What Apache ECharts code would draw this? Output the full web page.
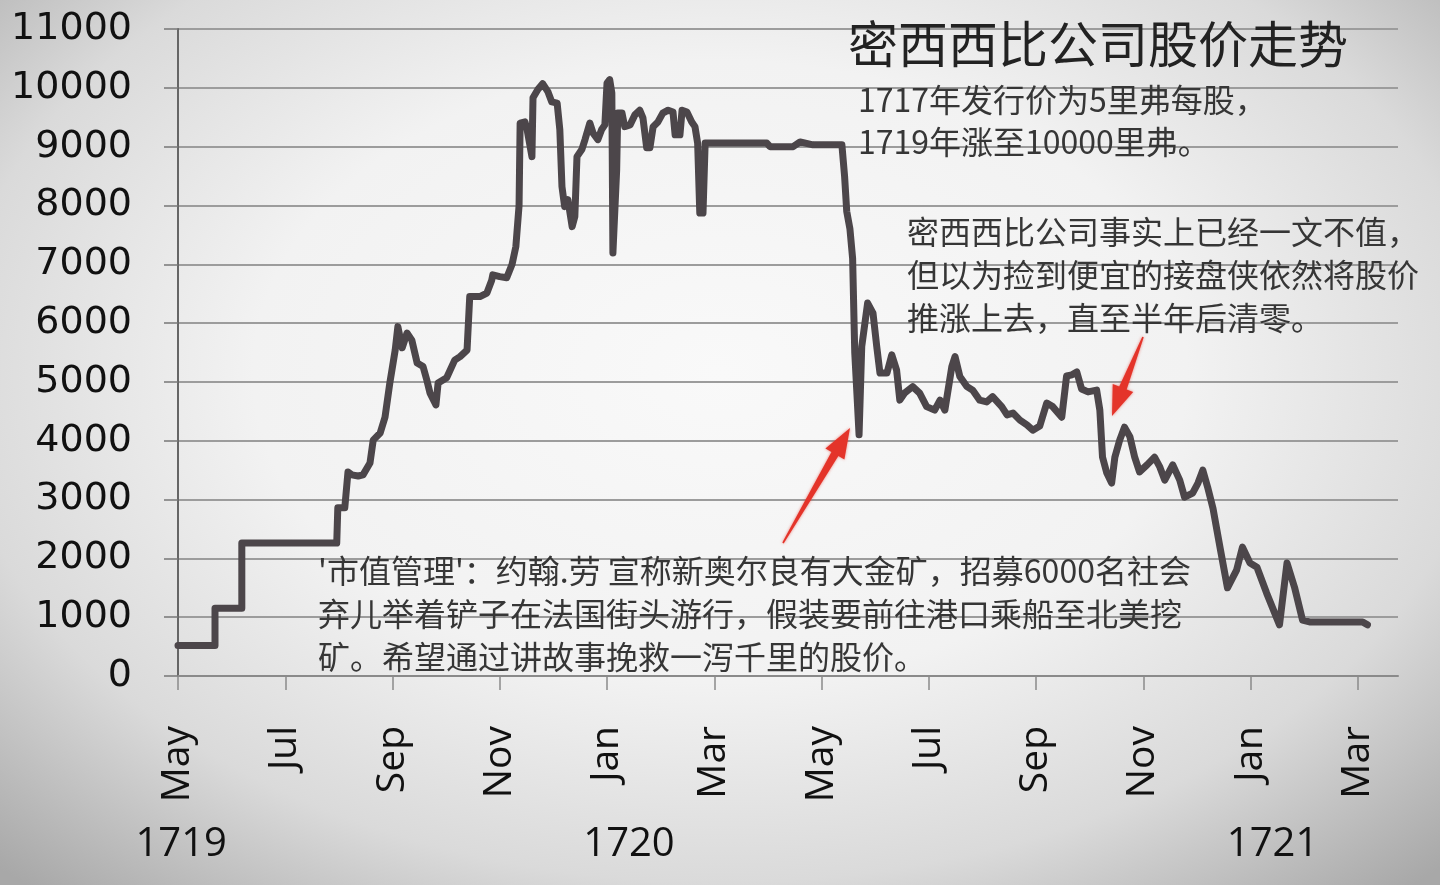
<!DOCTYPE html>
<html>
<head>
<meta charset="utf-8">
<title>密西西比公司股价走势</title>
<script src="https://cdn.jsdelivr.net/npm/echarts@6/dist/echarts.min.js"></script>
<style>
  html, body { margin: 0; padding: 0; }
  body {
    width: 1440px; height: 885px; overflow: hidden;
    background: radial-gradient(ellipse 72% 78% at 50% 42%, #f9f9f9 0%, #f2f2f2 45%, #dadada 74%, #a8a8a8 100%);
  }
  #chart { width: 1440px; height: 885px; }
</style>
</head>
<body>
<div id="chart"></div>
<script>
// x = months since May 1719, y = share price (livres)
const months = [
  0, 0.69, 0.69, 1.19, 1.19, 2.96, 2.98, 3.11, 3.17, 3.24, 3.36, 3.45, 3.58, 3.64, 3.77, 3.86, 3.95, 4.05, 4.10,
  4.18, 4.27, 4.36, 4.46, 4.57, 4.64, 4.70, 4.81, 4.85, 5.01, 5.16, 5.26, 5.39, 5.44, 5.63, 5.76, 5.85, 5.87,
  6.00, 6.13, 6.23, 6.30, 6.36, 6.38, 6.47, 6.51, 6.60, 6.62, 6.71, 6.80, 6.90, 6.97, 7.07, 7.12, 7.16, 7.21,
  7.27, 7.35, 7.40, 7.44, 7.53, 7.59, 7.68, 7.74, 7.83, 7.90, 7.96, 8.00, 8.05, 8.09, 8.11, 8.18, 8.20, 8.28,
  8.33, 8.43, 8.52, 8.61, 8.67, 8.74, 8.80, 8.86, 8.95, 9.04, 9.14, 9.23, 9.27, 9.36, 9.40, 9.49, 9.58, 9.64,
  9.69, 9.73, 9.79, 9.83, 10.98, 11.04, 11.47, 11.60, 11.84, 12.38, 12.43, 12.47, 12.53, 12.58, 12.62, 12.66,
  12.70, 12.75, 12.86, 12.96, 13.03, 13.09, 13.22, 13.31, 13.40, 13.46, 13.55, 13.70, 13.83, 13.96, 14.11,
  14.21, 14.30, 14.43, 14.49, 14.58, 14.71, 14.82, 14.95, 15.08, 15.19, 15.36, 15.46, 15.57, 15.70, 15.83,
  15.94, 16.07, 16.20, 16.31, 16.48, 16.57, 16.67, 16.76, 16.85, 16.97, 17.13, 17.19, 17.24, 17.32, 17.41,
  17.47, 17.56, 17.65, 17.75, 17.84, 17.93, 18.07, 18.21, 18.31, 18.40, 18.55, 18.68, 18.77, 18.92, 19.02,
  19.11, 19.20, 19.30, 19.43, 19.57, 19.74, 19.85, 19.99, 20.12, 20.30, 20.54, 20.68, 20.82, 20.97, 21.10,
  22.09, 22.18
];
const prices = [
  520, 520, 1150, 1150, 2260, 2260, 2860, 2860, 3470, 3420, 3400, 3420, 3620, 4010, 4130, 4400, 4980, 5540, 5940,
  5580, 5830, 5710, 5320, 5260, 5030, 4810, 4610, 4980, 5070, 5370, 5430, 5540, 6450, 6450, 6510, 6730, 6820,
  6790, 6770, 7000, 7300, 8000, 9400, 9420, 9290, 8830, 9830, 9970, 10070, 9930, 9760, 9740, 9290, 8320, 7980,
  8100, 7640, 7810, 8830, 8950, 9120, 9400, 9230, 9120, 9290, 9370, 10080, 10140, 9910, 7190, 8600, 9570, 9570,
  9340, 9370, 9540, 9620, 9490, 8980, 8980, 9340, 9420, 9570, 9620, 9590, 9200, 9200, 9620, 9590, 9420, 9340,
  9060, 7870, 7870, 9060, 9060, 9000, 9000, 9080, 9030, 9030, 8500, 7900, 7600, 7100, 5490, 4800,
  4100, 5600, 6340, 6170, 5600, 5150, 5150, 5460, 5200, 4690, 4810, 4920, 4810, 4580, 4520,
  4690, 4520, 5260, 5430, 5090, 4920, 4860, 4690, 4660, 4750, 4580, 4440, 4470, 4350, 4270,
  4180, 4250, 4640, 4580, 4400, 5100, 5120, 5170, 4880, 4830, 4860, 4520, 3720, 3450, 3280,
  3720, 4010, 4230, 4070, 3720, 3470, 3590, 3720, 3550, 3330, 3590, 3330, 3040, 3110, 3280,
  3500, 3210, 2850, 2190, 1500, 1800, 2190, 1920, 1850, 1410, 870, 1920, 1510, 950, 920,
  920, 870
];
const monthTicks = [0, 2, 4, 6, 8, 10, 12, 14, 16, 18, 20, 22];
const monthLabels = ['May', 'Jul', 'Sep', 'Nov', 'Jan', 'Mar', 'May', 'Jul', 'Sep', 'Nov', 'Jan', 'Mar'];
const yearLabels = ['1719', '1720', '1721'];
const yearPos = [0.06, 8.41, 20.41];

const title = '密西西比公司股价走势';
const note1 = ['1717年发行价为5里弗每股，', '1719年涨至10000里弗。'];
const note2 = ['密西西比公司事实上已经一文不值，', '但以为捡到便宜的接盘侠依然将股价', '推涨上去，直至半年后清零。'];
const note3 = ["'市值管理'：约翰.劳 宣称新奥尔良有大金矿，招募6000名社会", '弃儿举着铲子在法国街头游行，假装要前往港口乘船至北美挖', '矿。希望通过讲故事挽救一泻千里的股价。'];

const chart = echarts.init(document.getElementById('chart'));
const gridColor = '#9c9c9c';

chart.setOption({
  backgroundColor: 'transparent',
  animation: false,
  grid: { left: 178, right: 42, top: 29, bottom: 209 },
  xAxis: {
    type: 'value',
    min: 0,
    max: 22.75,
    interval: 2,
    axisLine: { show: true, lineStyle: { color: '#8a8a8a', width: 2 } },
    axisTick: { show: true, customValues: monthTicks, length: 14, lineStyle: { color: '#8a8a8a', width: 1.5 } },
    axisLabel: {
      customValues: monthTicks,
      rotate: 90,
      margin: 50,
      fontFamily: 'Open Sans',
      fontSize: 39,
      color: '#111',
      formatter: v => monthLabels[monthTicks.indexOf(v)]
    },
    splitLine: { show: false }
  },
  yAxis: {
    type: 'value',
    min: 0,
    max: 11000,
    interval: 1000,
    axisLine: { show: true, lineStyle: { color: '#666', width: 2 } },
    axisTick: { show: true, length: 14, lineStyle: { color: '#777', width: 1.5 } },
    axisLabel: { margin: 46, fontFamily: 'DejaVu Sans', fontSize: 38, color: '#111', formatter: v => String(v) },
    splitLine: { show: true, lineStyle: { color: gridColor, width: 2 } }
  },
  series: [{
    type: 'line',
    data: months.map((m, i) => [m, prices[i]]),
    showSymbol: false,
    lineStyle: { color: '#4c464a', width: 7, join: 'round', cap: 'round' },
    z: 3
  }]
});

// arrow shape for the red pointers
function arrow(tail, tip, headLen, headHalf) {
  const dx = tip[0] - tail[0], dy = tip[1] - tail[1];
  const len = Math.sqrt(dx * dx + dy * dy);
  const ux = dx / len, uy = dy / len, nx = -uy, ny = ux;
  const bx = tip[0] - ux * headLen, by = tip[1] - uy * headLen;
  return [
    [tail[0] + nx * 0.8, tail[1] + ny * 0.8],
    [bx + nx * 4, by + ny * 4],
    [bx + nx * headHalf, by + ny * headHalf],
    tip,
    [bx - nx * headHalf, by - ny * headHalf],
    [bx - nx * 4, by - ny * 4],
    [tail[0] - nx * 0.8, tail[1] - ny * 0.8]
  ];
}

const cjk = '"Noto Sans CJK SC", sans-serif';
const textColor = '#363636';
const graphics = [];

graphics.push({ type: 'text', x: 848, y: 44, z: 10,
  style: { text: title, font: '50px ' + cjk, fill: '#222', verticalAlign: 'middle' } });
note1.forEach((t, i) => graphics.push({ type: 'text', x: 858, y: 100 + i * 42, z: 10,
  style: { text: t, font: '32px ' + cjk, fill: textColor, verticalAlign: 'middle' } }));
note2.forEach((t, i) => graphics.push({ type: 'text', x: 907, y: 232 + i * 43, z: 10,
  style: { text: t, font: '32px ' + cjk, fill: textColor, verticalAlign: 'middle' } }));
note3.forEach((t, i) => graphics.push({ type: 'text', x: 318, y: 571 + i * 43, z: 10,
  style: { text: t, font: '32px ' + cjk, fill: textColor, verticalAlign: 'middle' } }));

yearLabels.forEach((t, i) => {
  const px = chart.convertToPixel({ xAxisIndex: 0 }, yearPos[i]);
  graphics.push({ type: 'text', x: px, y: 845, z: 10,
    style: { text: t, font: '40px "Open Sans"', fill: '#111', align: 'center', verticalAlign: 'middle' } });
});

graphics.push({ type: 'polygon', z: 11, shape: { points: arrow([783, 543], [850, 428], 30, 11) },
  style: { fill: '#e4342a', shadowBlur: 3, shadowColor: 'rgba(228,52,42,0.6)' } });
graphics.push({ type: 'polygon', z: 11, shape: { points: arrow([1143, 337], [1112, 416], 30, 11) },
  style: { fill: '#e4342a', shadowBlur: 3, shadowColor: 'rgba(228,52,42,0.6)' } });

chart.setOption({ graphic: graphics });
</script>
</body>
</html>
